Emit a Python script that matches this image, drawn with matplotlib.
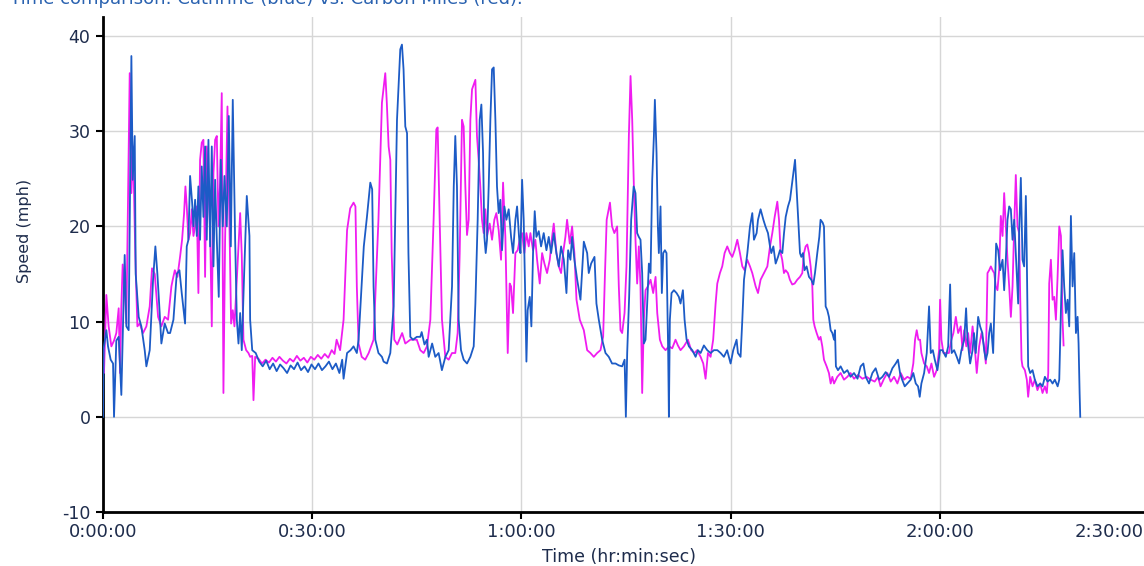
import matplotlib
matplotlib.use("Agg")
import matplotlib.pyplot as plt

plt.rcParams["axes.unicode_minus"] = False

# time in minutes, speed in mph
CATHRINE_T = [
    0.0, 0.1, 0.48, 0.72, 1.1, 1.44, 1.58, 1.91, 2.25, 2.63, 2.87, 3.11, 3.35, 3.68,
    4.07, 4.26, 4.55, 4.69, 4.88, 5.12, 5.5, 5.98, 6.22, 6.7, 7.18, 7.51, 7.8, 8.13,
    8.37, 8.85, 9.33, 9.62, 10.1, 10.57, 10.96, 11.29, 11.77, 12.01, 12.25, 12.49,
    12.78, 12.97, 13.21, 13.45, 13.68, 13.92, 14.16, 14.4, 14.64, 14.88, 15.12, 15.36,
    15.6, 15.84, 16.08, 16.32, 16.6, 16.89, 17.18, 17.42, 17.75, 18.04, 18.33, 18.61,
    18.95, 19.19, 19.43, 19.67, 19.9, 20.24, 20.62, 21.0, 21.1, 21.4, 21.9, 22.4,
    22.9, 23.4, 23.9, 24.4, 24.9, 25.4, 25.9, 26.4, 26.9, 27.4, 27.9, 28.4, 28.9,
    29.4, 29.9, 30.4, 30.9, 31.4, 31.9, 32.4, 32.9, 33.4, 33.9, 34.3, 34.5, 35.0,
    35.5, 35.93, 36.4, 36.65, 37.4, 37.85, 38.33, 38.6, 38.8, 39.05, 39.5, 40.0,
    40.24, 40.72, 41.2, 41.68, 42.16, 42.63, 42.87, 43.1, 43.35, 43.6, 43.8, 44.07,
    44.45, 45.0, 45.5, 45.7, 46.1, 46.46, 46.7, 47.2, 47.65, 48.13, 48.6, 49.1,
    49.57, 50.05, 50.3, 50.52, 50.76, 51.0, 51.34, 51.72, 52.2, 52.68, 53.16, 53.4,
    53.73, 54.02, 54.26, 54.5, 54.69, 54.88, 55.07, 55.31, 55.55, 55.79, 56.03,
    56.27, 56.5, 56.74, 56.98, 57.22, 57.56, 57.85, 58.18, 58.52, 58.8, 59.14,
    59.38, 59.66, 59.86, 60.1, 60.33, 60.57, 60.72, 60.9, 61.2, 61.43, 61.67, 61.91,
    62.15, 62.49, 62.82, 63.2, 63.59, 63.92, 64.26, 64.64, 65.02, 65.36, 65.69,
    66.08, 66.46, 66.7, 67.03, 67.27, 67.6, 68.0, 68.47, 68.95, 69.43, 69.66, 70.0,
    70.48, 70.76, 71.1, 71.58, 72.06, 72.53, 73.0, 73.5, 73.97, 74.45, 74.8, 74.98,
    75.17, 75.45, 75.74, 76.1, 76.36, 76.6, 76.84, 77.08, 77.32, 77.56, 77.8, 78.04,
    78.28, 78.52, 78.76, 79.0, 79.14, 79.38, 79.57, 79.71, 79.95, 80.14, 80.34,
    80.58, 80.81, 81.05, 81.15, 81.29, 81.53, 81.87, 82.25, 82.58, 82.82, 83.16,
    83.4, 83.69, 84.02, 84.5, 84.98, 85.31, 85.7, 86.17, 86.65, 87.13, 87.61, 88.1,
    88.57, 89.04, 89.5, 90.0, 90.38, 90.86, 91.05, 91.43, 91.68, 91.92, 92.4, 92.78,
    93.11, 93.35, 93.73, 93.93, 94.3, 94.7, 95.0, 95.36, 95.65, 95.84, 96.13, 96.46,
    96.8, 97.08, 97.42, 97.66, 97.9, 98.23, 98.52, 98.76, 99.0, 99.24, 99.5, 99.7,
    99.95, 100.14, 100.38, 100.6, 100.9, 101.24, 101.57, 101.86, 102.1, 102.43,
    102.72, 102.9, 103.2, 103.39, 103.63, 103.87, 104.1, 104.35, 104.59, 104.83,
    104.97, 105.1, 105.4, 105.78, 106.26, 106.74, 107.2, 107.7, 108.2, 108.65,
    109.04, 109.37, 109.85, 110.33, 110.8, 111.3, 111.77, 112.24, 112.72, 113.2,
    113.68, 114.0, 114.3, 114.6, 114.97, 115.35, 115.83, 116.2, 116.55, 116.88,
    117.12, 117.36, 117.75, 118.13, 118.46, 118.7, 119.0, 119.28, 119.66, 120.04,
    120.38, 120.86, 121.2, 121.48, 121.7, 122.05, 122.43, 122.77, 123.1, 123.5,
    123.77, 123.97, 124.35, 124.7, 124.9, 125.16, 125.5, 125.78, 126.1, 126.36,
    126.6, 126.84, 127.08, 127.32, 127.65, 127.89, 128.08, 128.37, 128.66, 129.0,
    129.23, 129.47, 129.71, 129.95, 130.19, 130.43, 130.67, 131.05, 131.24, 131.38,
    131.62, 131.86, 132.1, 132.34, 132.48, 132.67, 132.96, 133.3, 133.63, 134.0,
    134.4, 134.73, 135.07, 135.45, 135.83, 136.17, 136.5, 136.9, 137.13, 137.37,
    137.6, 137.84, 138.08, 138.32, 138.56, 138.8, 139.04, 139.28, 139.52, 139.76,
    139.9, 140.05, 140.14,
]
CATHRINE_V = [
    0.0, 7.2, 9.1, 7.4, 6.0, 5.6, 0.0, 8.0, 8.4, 2.3, 9.5, 17.0, 9.5, 9.1,
    37.9, 24.9, 29.5, 15.0, 13.0, 10.5, 9.5, 7.0, 5.3, 7.0, 14.4, 17.9, 15.0, 10.9,
    7.7, 9.8, 8.8, 8.8, 10.2, 15.0, 15.4, 13.0, 9.8, 17.9, 18.6, 25.3,
    22.5, 20.0, 22.8, 19.0, 24.2, 18.6, 26.3, 21.0, 28.4, 18.6, 29.1, 17.9,
    28.4, 15.8, 24.9, 18.6, 12.6, 27.0, 20.0, 25.3, 20.0, 31.6, 17.9, 33.3,
    18.6, 10.2, 7.7, 10.9, 7.0, 15.0, 23.2, 19.0, 10.2, 7.0, 6.7, 5.8,
    5.3, 5.9, 5.0, 5.6, 4.8, 5.5, 5.1, 4.6, 5.4, 5.0, 5.7, 4.9, 5.3,
    4.7, 5.5, 5.0, 5.6, 4.9, 5.3, 5.8, 5.0, 5.6, 4.6, 6.0, 4.0, 6.7,
    7.0, 7.4, 6.7, 8.1, 17.9, 21.0, 24.6, 23.9, 13.7, 8.1, 6.7, 6.3,
    5.8, 5.6, 6.7, 11.6, 31.2, 38.6, 39.1, 36.5, 30.5, 29.8, 17.2, 8.4,
    8.1, 8.4, 8.4, 8.9, 7.6, 8.1, 6.3, 7.7, 6.3, 6.7, 4.9, 6.3,
    7.0, 13.7, 24.2, 29.5, 24.2, 10.2, 7.0, 6.0, 5.6, 6.3, 7.4, 11.9,
    20.7, 31.2, 32.8, 27.7, 18.9, 17.2, 18.6, 24.2, 31.2, 36.5, 36.7,
    31.2, 24.2, 21.4, 22.8, 17.5, 22.1, 20.7, 21.8, 18.9, 17.2, 20.7,
    22.1, 18.9, 17.2, 24.9, 20.7, 11.9, 5.8, 11.2, 12.6, 9.5, 17.2, 21.6,
    18.9, 19.5, 17.9, 19.3, 17.5, 18.9, 17.2, 19.3, 17.2, 15.8, 17.9,
    16.5, 13.0, 17.5, 16.5, 18.9, 16.5, 14.4, 12.3, 18.4, 17.2, 15.1, 16.1,
    16.8, 11.9, 10.2, 8.1, 6.7, 6.3, 5.6, 5.6, 5.4, 5.3, 6.0, 0.0,
    6.7, 12.6, 20.7, 24.2, 23.5, 19.3, 18.9, 18.6, 15.1, 7.7, 8.1, 11.9,
    16.1, 15.1, 24.9, 29.5, 33.3, 27.7, 20.0, 17.2, 22.1, 13.0, 17.2,
    17.5, 17.2, 6.7, 0.0, 10.2, 13.0, 13.3, 13.0, 12.6, 11.9, 13.3,
    10.2, 8.1, 7.4, 7.0, 6.3, 7.0, 6.7, 7.5, 7.0, 6.7, 7.0, 7.0,
    6.7, 6.3, 7.0, 5.6, 7.0, 8.1, 6.7, 6.3, 10.2, 14.4, 17.2, 20.0,
    21.4, 18.6, 19.3, 20.7, 21.8, 20.7, 20.0, 19.3, 17.9, 17.2, 17.9, 16.1,
    16.8, 17.5, 17.2, 19.3, 21.0, 22.1, 22.8, 24.2, 25.6, 27.0, 23.5, 20.7,
    17.2, 16.8, 17.2, 15.4, 15.8, 14.7, 14.4, 13.9, 15.1, 17.2,
    18.9, 20.7, 20.4, 20.0, 11.6, 11.2, 10.5, 9.1, 8.8, 8.1,
    9.1, 5.3, 4.9, 5.3, 4.6, 4.9, 4.2, 4.6, 4.0, 5.3,
    5.6, 4.2, 3.5, 4.6, 5.1, 3.9, 4.2, 4.7, 4.2, 5.1,
    5.6, 6.0, 4.6, 3.9, 3.2, 3.5, 3.9, 4.6, 3.5, 3.2,
    2.1, 3.5, 4.6, 6.7, 11.6, 6.7, 7.0, 6.0, 4.9, 7.0,
    7.0, 6.3, 7.4, 13.9, 6.7, 7.0, 6.3, 5.6, 7.0, 8.1,
    11.4, 8.1, 5.6, 7.0, 8.8, 6.7, 10.5, 9.5, 8.8, 7.0,
    6.0, 6.7, 8.8, 9.8, 6.7, 13.0, 18.2, 17.5, 15.4, 16.5,
    13.3, 16.5, 20.7, 22.1, 21.8, 18.6, 20.7, 14.7, 11.9, 19.3,
    25.1, 16.5, 15.8, 23.2, 16.5, 5.3, 4.6, 4.9, 3.9, 3.2,
    3.5, 3.2, 4.2, 3.7, 3.9, 3.5, 3.9, 3.2, 3.9, 11.2,
    17.5, 13.7, 10.9, 12.3, 9.5, 21.1, 13.7, 17.2, 8.8, 10.5,
    7.7, 2.5, 0.0,
]

CARBON_T = [
    0.0, 0.14, 0.48, 0.81, 1.2, 1.58, 1.91, 2.25, 2.44, 2.63, 2.82, 3.11, 3.35, 3.83,
    4.07, 4.31, 4.64, 4.93, 5.26, 5.74, 6.22, 6.7, 7.03, 7.42, 7.9, 8.37, 8.85, 9.33,
    9.81, 10.0, 10.3, 10.67, 11.05, 11.34, 11.63, 11.82, 12.01, 12.25, 12.49, 12.73,
    12.97, 13.21, 13.45, 13.68, 13.92, 14.16, 14.4, 14.64, 14.88, 15.12, 15.36, 15.6,
    15.84, 16.08, 16.32, 16.56, 16.79, 17.03, 17.27, 17.51, 17.85, 18.13, 18.37,
    18.61, 18.85, 19.19, 19.67, 19.9, 20.14, 20.53, 20.86, 21.1, 21.4, 21.58, 21.82,
    22.3, 22.8, 23.3, 23.8, 24.3, 24.8, 25.3, 25.8, 26.3, 26.8, 27.3, 27.8, 28.3,
    28.8, 29.3, 29.8, 30.3, 30.8, 31.3, 31.8, 32.3, 32.8, 33.2, 33.5, 34.0, 34.5,
    35.0, 35.45, 35.93, 36.2, 36.4, 36.65, 37.1, 37.6, 38.1, 38.8, 39.5, 40.0,
    40.48, 40.7, 40.96, 41.2, 41.4, 41.77, 42.2, 42.9, 43.35, 44.07, 45.0, 45.5,
    45.98, 46.46, 46.94, 47.41, 47.8, 47.99, 48.28, 48.61, 49.09, 49.57, 50.05,
    50.52, 50.86, 51.15, 51.48, 51.72, 51.96, 52.2, 52.44, 52.68, 52.92, 53.4,
    53.63, 53.87, 54.11, 54.35, 54.59, 54.83, 55.07, 55.45, 55.79, 56.12, 56.41,
    56.74, 57.08, 57.37, 57.7, 58.04, 58.32, 58.52, 58.8, 59.14, 59.47, 59.76,
    60.1, 60.43, 60.72, 61.05, 61.29, 61.67, 62.0, 62.25, 62.63, 62.97, 63.3,
    63.68, 64.07, 64.4, 64.64, 65.02, 65.36, 65.69, 65.98, 66.31, 66.55, 66.94,
    67.27, 67.6, 67.9, 68.37, 68.95, 69.43, 69.9, 70.38, 70.86, 71.34, 71.72, 72.0,
    72.23, 72.7, 73.0, 73.33, 73.73, 73.97, 74.21, 74.45, 74.79, 75.07, 75.41,
    75.65, 75.89, 76.13, 76.36, 76.6, 76.84, 77.08, 77.32, 77.56, 77.8, 78.13,
    78.52, 78.9, 79.24, 79.48, 79.86, 80.2, 80.67, 81.15, 81.63, 82.1, 82.44, 82.82,
    83.3, 83.88, 84.35, 84.83, 85.2, 85.7, 86.08, 86.41, 86.75, 87.13, 87.5, 87.85,
    88.09, 88.47, 88.8, 89.14, 89.52, 89.9, 90.24, 90.58, 90.96, 91.34, 91.68,
    92.01, 92.39, 92.78, 93.11, 93.59, 93.93, 94.3, 94.79, 95.27, 95.65, 95.98,
    96.32, 96.7, 96.94, 97.18, 97.4, 97.65, 97.89, 98.22, 98.5, 98.84, 99.18, 99.56,
    99.95, 100.28, 100.52, 100.76, 101.0, 101.24, 101.48, 101.72, 101.86, 102.05,
    102.34, 102.67, 102.9, 103.15, 103.39, 103.77, 104.1, 104.35, 104.59, 104.83,
    105.3, 105.78, 106.26, 106.74, 107.2, 107.7, 108.27, 108.9, 109.5, 110.1,
    110.66, 111.14, 111.5, 112.0, 112.48, 112.96, 113.44, 113.92, 114.4, 114.87,
    115.35, 115.83, 116.2, 116.45, 116.69, 116.93, 117.17, 117.36, 117.75, 118.13,
    118.46, 118.8, 119.18, 119.56, 119.9, 120.04, 120.23, 120.52, 120.86, 121.3,
    121.67, 121.95, 122.3, 122.63, 123.0, 123.25, 123.5, 123.8, 124.06, 124.35,
    124.7, 125.0, 125.3, 125.64, 125.98, 126.36, 126.6, 126.84, 127.08, 127.32,
    127.56, 127.8, 128.03, 128.27, 128.51, 128.75, 129.0, 129.23, 129.47, 129.71,
    129.95, 130.19, 130.43, 130.67, 130.9, 131.14, 131.38, 131.53, 131.72, 131.86,
    132.2, 132.48, 132.67, 132.96, 133.3, 133.63, 134.0, 134.4, 134.73, 135.07,
    135.35, 135.55, 135.69, 135.93, 136.17, 136.41, 136.65, 136.89, 137.13, 137.37,
    137.6, 137.75,
]
CARBON_V = [
    4.9, 4.6, 12.8, 9.5, 7.4, 8.0, 8.8, 11.4, 4.6, 11.6, 16.0, 13.3, 9.8, 36.1,
    23.5, 28.4, 16.8, 9.5, 9.8, 8.8, 9.5, 11.6, 15.6, 15.0, 10.5, 9.5, 10.5, 10.2,
    13.7, 14.4, 15.4, 14.7, 16.8, 18.6, 21.4, 24.2, 22.1, 18.6, 19.3, 21.8,
    19.0, 20.0, 22.1, 13.0, 27.0, 28.8, 29.1, 14.7, 28.4, 23.9, 19.6, 9.5,
    25.6, 29.1, 29.5, 20.0, 24.6, 34.0, 2.5, 18.6, 32.6, 20.0, 9.8,
    11.2, 9.5, 14.4, 21.4, 17.0, 8.1, 7.0, 6.7, 6.3, 6.4, 1.75, 6.3,
    6.1, 5.6, 6.0, 5.7, 6.2, 5.8, 6.3, 5.9, 5.6, 6.1, 5.8, 6.4, 5.9,
    6.2, 5.7, 6.3, 6.0, 6.5, 6.1, 6.6, 6.2, 7.0, 6.6, 8.1, 7.0, 10.2,
    19.6, 21.9, 22.5, 22.1, 13.7, 7.7, 6.3, 6.0, 6.7, 8.1, 20.7, 33.0,
    36.1, 33.0, 28.4, 27.0, 17.2, 8.1, 7.6, 8.8, 7.7, 8.1, 8.1, 7.0,
    6.7, 7.4, 10.2, 20.7, 30.2, 30.4, 20.7, 10.2, 6.3, 6.0, 6.7,
    6.7, 8.8, 17.2, 31.2, 30.5, 24.2, 19.1, 20.7, 31.2, 34.4, 35.4,
    29.5, 27.0, 24.2, 20.7, 19.3, 21.8, 19.0, 20.3, 18.6, 20.7, 21.4,
    19.6, 16.5, 24.6, 18.9, 6.7, 14.0, 13.7, 10.9, 17.2, 17.5, 18.6,
    19.3, 17.2, 19.3, 17.9, 19.3, 17.5, 18.6, 16.5, 14.0, 17.2, 16.1,
    15.1, 16.5, 18.9, 20.3, 17.2, 15.8, 15.1, 17.2, 18.9, 20.7, 18.2,
    20.0, 17.2, 12.3, 10.2, 9.1, 7.0, 6.7, 6.3, 6.7, 7.0, 8.4, 15.4,
    20.7, 22.5, 20.0, 19.3, 20.0, 13.7, 9.1, 8.8, 10.9, 15.8, 29.5,
    35.8, 31.2, 24.2, 18.6, 14.0, 17.9, 13.7, 2.5, 10.2, 13.3, 13.7,
    14.4, 13.0, 14.7, 10.9, 8.1, 7.4, 7.0, 7.4, 7.2, 8.1, 7.5, 7.0,
    7.4, 8.1, 7.0, 6.7, 7.0, 6.3, 5.6, 4.0, 6.7, 6.3, 8.1, 11.9,
    14.0, 15.1, 15.8, 17.2, 17.9, 17.2, 16.8, 17.5, 18.6, 17.2, 15.8,
    15.4, 16.5, 15.8, 15.1, 13.7, 13.0, 14.4, 15.1, 15.8, 17.9, 19.3,
    21.0, 22.6, 20.7, 17.2, 16.5, 15.1, 15.4, 15.1, 14.4, 13.9, 14.0, 14.4,
    14.7, 15.1, 17.2, 17.9, 18.1, 17.2, 15.8, 13.7, 10.2, 9.5,
    8.8, 8.1, 8.4, 7.4, 6.0, 5.3, 4.6, 3.5, 4.2, 3.5,
    4.2, 4.6, 3.9, 4.2, 4.6, 4.0, 4.4, 4.0, 4.2, 3.9,
    3.7, 4.2, 3.2, 4.0, 4.6, 3.7, 4.2, 3.5, 4.6, 3.9,
    4.2, 4.0, 5.6, 8.1, 9.1, 8.1, 8.1, 6.7, 5.6, 5.3,
    4.6, 5.6, 4.2, 4.9, 7.0, 12.3, 8.1, 6.7, 6.7, 6.7,
    8.1, 8.8, 10.5, 8.8, 9.5, 7.0, 9.1, 7.4, 8.8, 6.7,
    9.5, 7.4, 4.6, 7.4, 8.8, 7.4, 5.6, 15.1, 15.4, 15.8,
    15.4, 15.1, 13.7, 13.3, 15.4, 21.1, 19.0, 23.5, 20.0, 16.5,
    13.7, 10.5, 13.7, 20.0, 25.4, 20.0, 19.3, 12.6, 6.0, 5.3,
    4.9, 3.9, 2.1, 4.2, 3.2, 3.9, 2.8, 3.5, 2.5, 3.2,
    2.5, 4.6, 14.0, 16.5, 12.3, 12.6, 10.2, 14.7, 20.0, 19.0,
    10.2, 7.5,
]

X_TICKS = [0, 30, 60, 90, 120, 150]
X_TICK_LABELS = ["0:00:00", "0:30:00", "1:00:00", "1:30:00", "2:00:00", "2:30:00"]
Y_TICKS = [-10, 0, 10, 20, 30, 40]

BLUE = "#1c5bc6"
MAGENTA = "#f01cf0"
TEXT = "#1e2c4c"

fig = plt.figure(figsize=(11.44, 5.66), dpi=100)
ax = fig.add_axes([103 / 1144, 54 / 566, 1046 / 1144, 495 / 566])

ax.plot(CARBON_T, CARBON_V, color=MAGENTA, lw=1.3, zorder=3)
ax.plot(CATHRINE_T, CATHRINE_V, color=BLUE, lw=1.3, zorder=4)

ax.set_xlim(0, 150)
ax.set_ylim(-10, 42)
ax.set_xticks(X_TICKS)
# the last label sits against the right edge, drawn separately below
ax.set_xticklabels(X_TICK_LABELS[:-1] + [""])
ax.set_yticks(Y_TICKS)
ax.grid(True, color="#d6d6d6", lw=1.0, zorder=0)
ax.set_axisbelow(True)

for side in ("top", "right"):
    ax.spines[side].set_visible(False)
for side in ("left", "bottom"):
    ax.spines[side].set_linewidth(2.0)
    ax.spines[side].set_color("black")

ax.tick_params(axis="both", direction="out", length=5, width=1.5, color="black",
               labelcolor=TEXT)
ax.tick_params(axis="x", labelsize=13, pad=3)
ax.tick_params(axis="y", labelsize=12.5, pad=4)

ax.annotate(X_TICK_LABELS[-1], xy=(X_TICKS[-1], 0), xycoords=("data", "axes fraction"),
            xytext=(-4, -8), textcoords="offset points", ha="right", va="top",
            fontsize=13, color=TEXT, annotation_clip=False)

ax.set_xlabel("Time (hr:min:sec)", fontsize=12.5, color=TEXT)
ax.xaxis.set_label_coords((619 - 103) / 1046, (512 - 557) / 495)
ax.set_ylabel("Speed (mph)", fontsize=11.5, color=TEXT)
ax.yaxis.set_label_coords((25 - 103) / 1046, (512 - 231) / 495)
ax.xaxis.label.set_va("center")
ax.yaxis.label.set_va("center")

fig.text(0.009, 1 - 4 / 566, "Time comparison: Cathrine (blue) vs. Carbon Miles (red).",
         fontsize=13, color="#2a62b0", va="baseline", ha="left")

fig.savefig("out.png", dpi=100)
